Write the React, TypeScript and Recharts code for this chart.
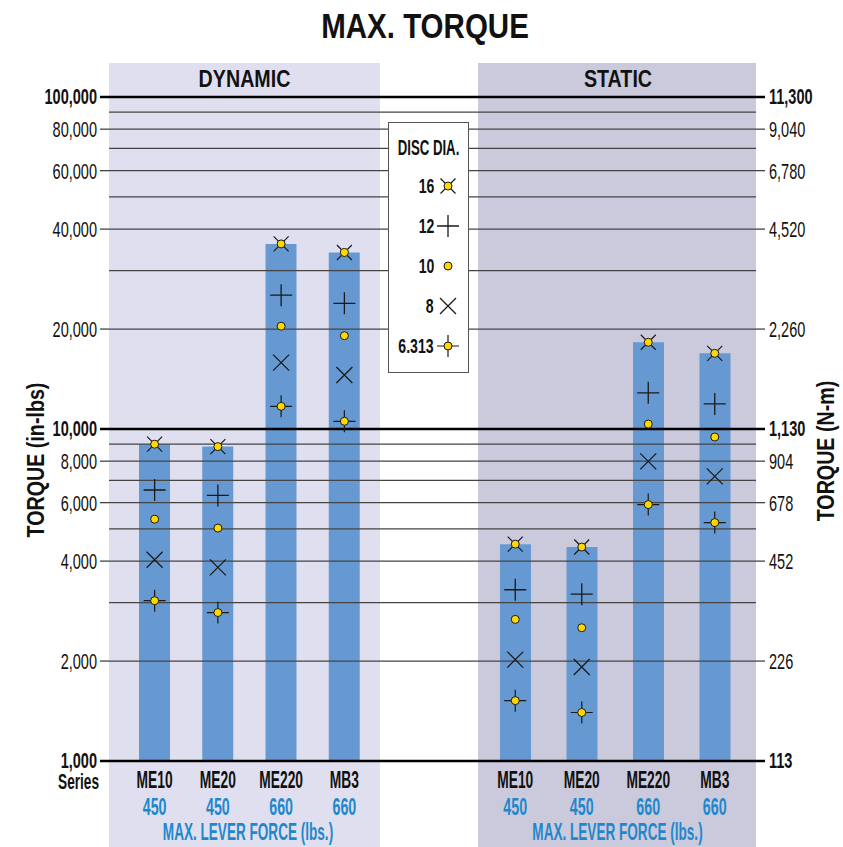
import { ComposedChart, Bar, Line, XAxis, YAxis, ReferenceLine, Legend } from 'recharts'

const FONT = "'Liberation Sans', Arial, Helvetica, sans-serif"
const BAR = '#6699d1'
const YEL = '#ffd800'
const INK = '#1a1a1a'
const BLUE = '#1f88cc'

const series = ['ME10', 'ME20', 'ME220', 'MB3']
const leverForce = [450, 450, 660, 660]
const discDia = ['16', '12', '10', '8', '6.313']

// torque in in-lbs
const dyn16 = [9000, 8850, 36100, 34000]
const dyn12 = [6550, 6310, 25300, 23900]
const dyn10 = [5350, 5030, 20400, 19100]
const dyn8 = [4040, 3830, 15850, 14540]
const dyn6 = [3040, 2800, 11700, 10550]

const sta16 = [4500, 4410, 18250, 16900]
const sta12 = [3280, 3180, 12850, 11900]
const sta10 = [2670, 2520, 10350, 9460]
const sta8 = [2020, 1920, 7990, 7200]
const sta6 = [1520, 1400, 5920, 5225]

const leftTicks = [1000, 2000, 4000, 6000, 8000, 10000, 20000, 40000, 60000, 80000, 100000]
const boldTicks = [1000, 10000, 100000]
const gridLines = [
  1000, 2000, 3000, 4000, 5000, 6000, 7000, 8000, 9000,
  10000, 20000, 30000, 40000, 50000, 60000, 70000, 80000, 90000, 100000,
]
const NM_PER_INLB = 0.113

const rows = series.map((s, i) => ({
  series: s,
  d16: dyn16[i], d12: dyn12[i], d10: dyn10[i], d8: dyn8[i], d6: dyn6[i],
  s16: sta16[i], s12: sta12[i], s10: sta10[i], s8: sta8[i], s6: sta6[i],
}))

function Mark16({ cx, cy }: any) {
  return (
    <g>
      <path d={`M${cx - 7.5},${cy - 7.5}L${cx + 7.5},${cy + 7.5}M${cx - 7.5},${cy + 7.5}L${cx + 7.5},${cy - 7.5}`} stroke={INK} strokeWidth={1.2} />
      <circle cx={cx} cy={cy} r={4} fill={YEL} stroke={INK} strokeWidth={1} />
    </g>
  )
}
function Mark12({ cx, cy }: any) {
  return <path d={`M${cx - 11},${cy}L${cx + 11},${cy}M${cx},${cy - 11}L${cx},${cy + 11}`} stroke={INK} strokeWidth={1.3} />
}
function Mark10({ cx, cy }: any) {
  return <circle cx={cx} cy={cy} r={4} fill={YEL} stroke={INK} strokeWidth={1} />
}
function Mark8({ cx, cy }: any) {
  return <path d={`M${cx - 8},${cy - 8}L${cx + 8},${cy + 8}M${cx - 8},${cy + 8}L${cx + 8},${cy - 8}`} stroke={INK} strokeWidth={1.3} />
}
function Mark6({ cx, cy }: any) {
  return (
    <g>
      <path d={`M${cx - 11},${cy}L${cx + 11},${cy}M${cx},${cy - 11}L${cx},${cy + 11}`} stroke={INK} strokeWidth={1.2} />
      <circle cx={cx} cy={cy} r={4} fill={YEL} stroke={INK} strokeWidth={1} />
    </g>
  )
}
const markers: Record<string, any> = { '16': Mark16, '12': Mark12, '10': Mark10, '8': Mark8, '6.313': Mark6 }
const markerKeys: Record<string, string> = { '16': '16', '12': '12', '10': '10', '8': '8', '6.313': '6' }

function LeftTick(props: any) {
  const { x, y, payload } = props
  const v = payload.value
  const heavy = boldTicks.includes(v)
  return (
    <g>
      <line x1={x + 3} x2={x + 12} y1={y} y2={y} stroke={heavy ? '#000' : '#444'} strokeWidth={heavy ? 2.5 : 1.3} />
      <text transform={`translate(${x} ${y + (heavy ? 6.5 : 8)}) scale(0.66 1)`} textAnchor="end" fontFamily={FONT}
        fontSize={22} fontWeight={heavy ? 700 : 400} fill="#111">
        {v.toLocaleString('en-US')}
      </text>
    </g>
  )
}

function RightTick(props: any) {
  const { x, y, payload } = props
  const v = payload.value
  const heavy = boldTicks.includes(v)
  const nm = Math.round(v * NM_PER_INLB).toLocaleString('en-US')
  return (
    <g>
      <line x1={x - 13} x2={x - 4} y1={y} y2={y} stroke={heavy ? '#000' : '#444'} strokeWidth={heavy ? 2.5 : 1.3} />
      <text transform={`translate(${x} ${y + (heavy ? 6.5 : 8)}) scale(0.66 1)`} textAnchor="start" fontFamily={FONT}
        fontSize={22} fontWeight={heavy ? 700 : 400} fill="#111">
        {nm}
      </text>
    </g>
  )
}

function CatTick(props: any) {
  const { x, y, payload, shift } = props
  const top = y + (shift || 0)
  return (
    <g fontFamily={FONT} fontWeight={700} fontSize={23}>
      <text transform={`translate(${x} ${top + 27}) scale(0.6 1)`} textAnchor="middle" fill="#111">{payload.value}</text>
      <text transform={`translate(${x} ${top + 54}) scale(0.62 1)`} textAnchor="middle" fill={BLUE}>{leverForce[payload.index]}</text>
    </g>
  )
}

function DiscLegend() {
  return (
    <div style={{ width: 81, height: 251, background: '#fff', border: '1px solid #555', boxSizing: 'border-box', position: 'relative', fontFamily: FONT, fontWeight: 700, color: '#111' }}>
      <div style={{ position: 'absolute', left: -20, right: -20, top: 12, textAlign: 'center', whiteSpace: 'nowrap', fontSize: 22, lineHeight: '26px', transform: 'scaleX(0.6)' }}>DISC DIA.</div>
      {discDia.map((d, i) => {
        const M = markers[d]
        return (
          <div key={d} style={{ position: 'absolute', left: 0, top: 50 + i * 40, width: 81, height: 26 }}>
            <div style={{ position: 'absolute', right: 36, top: 0, whiteSpace: 'nowrap', fontSize: 21, lineHeight: '26px', transform: 'scaleX(0.67)', transformOrigin: 'right center' }}>{d}</div>
            <svg width={26} height={26} style={{ position: 'absolute', left: 46, top: 0 }}>
              <M cx={13} cy={13} />
            </svg>
          </div>
        )
      })}
    </div>
  )
}

export default function App() {
  return (
    <div style={{ position: 'absolute', left: 0, top: 0, width: 843, height: 847, background: '#fff', overflow: 'hidden' }}>
      <svg width={843} height={847} style={{ position: 'absolute', left: 0, top: 0 }}>
        <rect x={109} y={63} width={271} height={784} fill="#e0dff0" />
        <rect x={478} y={63} width={278} height={784} fill="#cbcadc" />
      </svg>
      <ComposedChart width={843} height={847} data={rows} margin={{ top: 97, right: 0, bottom: 84, left: 0 }}>
        <XAxis xAxisId="dyn" dataKey="series" type="category" height={1} padding={{ left: 14, right: 380 }}
          axisLine={false} tickLine={false} tickSize={0} tickMargin={0} interval={0} tick={<CatTick shift={0} />} />
        <XAxis xAxisId="sta" dataKey="series" type="category" height={1} padding={{ left: 373, right: 8 }}
          axisLine={false} tickLine={false} tickSize={0} tickMargin={0} interval={0} tick={<CatTick shift={-1} />} />
        <YAxis yAxisId="left" type="number" scale="log" domain={[1000, 100000]} allowDataOverflow ticks={leftTicks}
          interval={0} width={109} axisLine={false} tickSize={9} tickMargin={3} tickLine={{ stroke: 'none' }} tick={<LeftTick />} />
        <YAxis yAxisId="right" orientation="right" type="number" scale="log" domain={[1000, 100000]} allowDataOverflow ticks={leftTicks}
          interval={0} width={87} axisLine={false} tickSize={9} tickMargin={4} tickLine={{ stroke: 'none' }} tick={<RightTick />} />
        <Bar xAxisId="dyn" yAxisId="left" dataKey="d16" fill={BAR} barSize={31} isAnimationActive={false} legendType="none" />
        <Bar xAxisId="sta" yAxisId="left" dataKey="s16" fill={BAR} barSize={31} isAnimationActive={false} legendType="none" />
        {gridLines.map((v) => (
          <ReferenceLine key={v} xAxisId="dyn" yAxisId="left" y={v}
            stroke={boldTicks.includes(v) ? '#000' : '#444'} strokeWidth={boldTicks.includes(v) ? 2.5 : 1.3} />
        ))}
        {['d', 's'].flatMap((p) =>
          discDia.map((d) => {
            const M = markers[d]
            const key = p + markerKeys[d]
            return (
              <Line key={key} xAxisId={p === 'd' ? 'dyn' : 'sta'} yAxisId="left" dataKey={key} name={d}
                stroke="none" isAnimationActive={false} activeDot={false} legendType="none"
                dot={(dp: any) => <M key={`${key}-${dp.index}`} cx={dp.cx} cy={dp.cy} />} />
            )
          })
        )}
        <Legend layout="vertical" align="center" verticalAlign="middle" content={<DiscLegend />}
          wrapperStyle={{ left: 388, top: 122, width: 81, height: 251 }} />
      </ComposedChart>
      <svg width={843} height={847} style={{ position: 'absolute', left: 0, top: 0, pointerEvents: 'none' }} fontFamily={FONT} fontWeight={700} fill="#111">
        <text transform="translate(425 38) scale(0.82 1)" textAnchor="middle" fontSize={36}>MAX. TORQUE</text>
        <text transform="translate(244.5 86.7) scale(0.82 1)" textAnchor="middle" fontSize={24}>DYNAMIC</text>
        <text transform="translate(618 86.7) scale(0.82 1)" textAnchor="middle" fontSize={24}>STATIC</text>
        <text transform="translate(99 789) scale(0.62 1)" textAnchor="end" fontSize={22}>Series</text>
        <text transform="translate(248 840) scale(0.59 1)" textAnchor="middle" fontSize={23} fill={BLUE}>MAX. LEVER FORCE (lbs.)</text>
        <text transform="translate(617.5 840) scale(0.59 1)" textAnchor="middle" fontSize={23} fill={BLUE}>MAX. LEVER FORCE (lbs.)</text>
        <text transform="translate(44 460) rotate(-90) scale(0.82 1)" textAnchor="middle" fontSize={24}>TORQUE (in-lbs)</text>
        <text transform="translate(834 451) rotate(-90) scale(0.82 1)" textAnchor="middle" fontSize={24}>TORQUE (N-m)</text>
      </svg>
    </div>
  )
}
